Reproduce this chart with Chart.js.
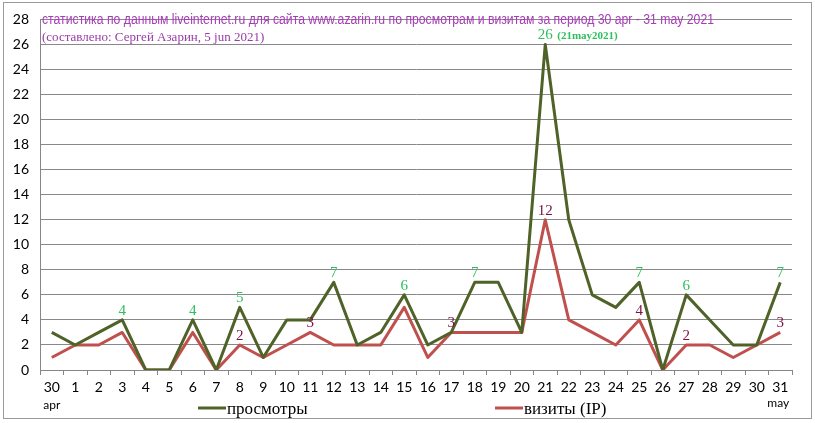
<!DOCTYPE html>
<html>
<head>
<meta charset="utf-8">
<script src="https://cdn.jsdelivr.net/npm/chart.js@4.4.1/dist/chart.umd.min.js"></script>
<style>
  html, body { margin: 0; padding: 0; background: #fff; }
  #wrap { width: 815px; height: 423px; position: relative; }
</style>
</head>
<body>
<div id="wrap"><canvas id="chart" width="815" height="423"></canvas></div>
<script>
const days = ["30", "1", "2", "3", "4", "5", "6", "7", "8", "9", "10", "11", "12", "13", "14", "15",
  "16", "17", "18", "19", "20", "21", "22", "23", "24", "25", "26", "27", "28", "29", "30", "31"];
const views = [3, 2, 3, 4, 0, 0, 4, 0, 5, 1, 4, 4, 7, 2, 3, 6, 2, 3, 7, 7, 3, 26, 12, 6, 5, 7, 0, 6, 4, 2, 2, 7];
const visits = [1, 2, 2, 3, 0, 0, 3, 0, 2, 1, 2, 3, 2, 2, 2, 5, 1, 3, 3, 3, 3, 12, 4, 3, 2, 4, 0, 2, 2, 1, 2, 3];
const viewsLabeled = [3, 6, 8, 12, 15, 18, 21, 25, 27, 31];
const visitsLabeled = [8, 11, 17, 21, 25, 27, 31];

const title = "статистика по данным liveinternet.ru для сайта www.azarin.ru по просмотрам и визитам за период 30 apr - 31 may 2021";
const subtitle = "(составлено: Сергей Азарин, 5 jun 2021)";
const peakNote = "(21may2021)";

const GREEN = "#4f6228";
const RED = "#c0504d";
const GREEN_LBL = "#2fbf5e";
const RED_LBL = "#7d1040";

// подписи значений, заголовок, легенда, рамка
const extras = {
  id: "extras",
  beforeDraw(chart) {
    const c = chart.ctx;
    c.save();
    c.fillStyle = "#fff";
    c.fillRect(0, 0, chart.width, chart.height);
    c.strokeStyle = "#9a9a9a";
    c.lineWidth = 1;
    c.strokeRect(3.5, 2.5, 808, 416);
    c.restore();
  },
  afterDatasetsDraw(chart) {
    const c = chart.ctx;
    c.save();
    c.textAlign = "center";
    c.textBaseline = "alphabetic";
    c.font = "15px 'Liberation Serif', serif";
    const put = (dsIndex, idxs, color) => {
      const meta = chart.getDatasetMeta(dsIndex);
      const data = chart.data.datasets[dsIndex].data;
      c.fillStyle = color;
      idxs.forEach((i) => {
        const p = meta.data[i];
        c.fillText(String(data[i]), p.x, p.y - 5);
      });
    };
    put(0, viewsLabeled, GREEN_LBL);
    put(1, visitsLabeled, RED_LBL);

    // пометка у пика
    const peak = chart.getDatasetMeta(0).data[21];
    c.textAlign = "left";
    c.fillStyle = GREEN_LBL;
    c.font = "bold 11px 'Liberation Serif', serif";
    c.fillText(peakNote, peak.x + 12, peak.y - 5);

    // заголовок поверх сетки
    c.fillStyle = "#a83cb8";
    c.font = "14px 'Liberation Sans', Arial, sans-serif";
    c.fillText(title, 42, 24, 672);
    c.fillStyle = "#9a3aaa";
    c.font = "13px 'Liberation Serif', serif";
    c.fillText(subtitle, 42, 41);

    // месяцы под осью
    const xs = chart.scales.x;
    c.fillStyle = "#000";
    c.font = "12px Lato, sans-serif";
    c.textAlign = "center";
    c.fillText("apr", xs.getPixelForValue(0), 409);
    c.fillText("may", xs.getPixelForValue(31) - 2, 407);

    // легенда
    const legend = [[198, 0], [495, 1]];
    legend.forEach(([x, di]) => {
      const ds = chart.data.datasets[di];
      c.strokeStyle = ds.borderColor;
      c.lineWidth = 3;
      c.beginPath();
      c.moveTo(x, 408);
      c.lineTo(x + 28, 408);
      c.stroke();
      c.fillStyle = "#000";
      c.textAlign = "left";
      c.font = "17px 'Liberation Serif', serif";
      c.fillText(ds.label, x + 29, 414);
    });
    c.restore();
  },
};

new Chart(document.getElementById("chart"), {
  type: "line",
  data: {
    labels: days,
    datasets: [
      { label: "просмотры", data: views, borderColor: GREEN, borderWidth: 3, borderJoinStyle: "round", pointRadius: 0, tension: 0 },
      { label: "визиты (IP)", data: visits, borderColor: RED, borderWidth: 3, borderJoinStyle: "round", pointRadius: 0, tension: 0 },
    ],
  },
  options: {
    responsive: false,
    animation: false,
    layout: { padding: { top: 15, right: 23, left: 0, bottom: 0 } },
    plugins: { legend: { display: false }, tooltip: { enabled: false } },
    scales: {
      x: {
        offset: true,
        grid: { offset: true, drawOnChartArea: false, tickLength: 5, color: "#868686" },
        border: { color: "#868686" },
        ticks: { color: "#000", font: { family: "Lato", size: 14 }, padding: 4, maxRotation: 0, autoSkip: false },
        afterFit(s) { s.height = 53; },
      },
      y: {
        min: 0,
        max: 28,
        ticks: {
          stepSize: 1,
          color: "#000",
          font: { family: "Lato", size: 14 },
          padding: 11,
          callback: (v) => (v % 2 === 0 ? v : ""),
        },
        grid: {
          drawTicks: false,
          color: (ctx) => (ctx.tick && ctx.tick.value % 2 === 0 ? "#888888" : "#bcbcbc"),
        },
        border: { color: "#868686" },
        afterFit(s) { s.width = 40; },
      },
    },
  },
  plugins: [extras],
});
</script>
</body>
</html>
